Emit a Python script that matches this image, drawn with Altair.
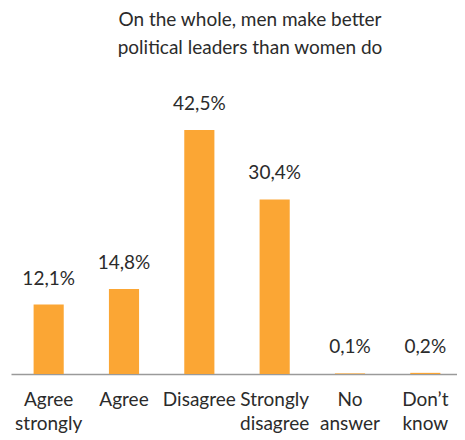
import altair as alt
import pandas as pd

categories = ["Agree strongly", "Agree", "Disagree", "Strongly disagree", "No answer", "Don’t know"]
values = [12.1, 14.8, 42.5, 30.4, 0.1, 0.2]
value_labels = ["12,1%", "14,8%", "42,5%", "30,4%", "0,1%", "0,2%"]
axis_labels = ["Agree|strongly", "Agree", "Disagree", "Strongly|disagree", "No|answer", "Don’t|know"]
title_lines = ["On the whole, men make better", "political leaders than women do"]

df = pd.DataFrame({"cat": categories, "val": values, "lab": value_labels, "axlab": axis_labels})

FONT = "Lato"
TXT = "#2b2b2b"
ORANGE = "#FBA634"

label_map = "{" + ",".join(f"'{c}':'{a}'" for c, a in zip(categories, axis_labels)) + "}"

x = alt.X("cat:N", sort=categories, title=None,
          scale=alt.Scale(range=[0, 452], paddingInner=0.6, paddingOuter=0.3),
          axis=alt.Axis(labelAngle=0, ticks=False, domainColor="#9a9a9a", domainWidth=1.5,
                        labelFont=FONT, labelFontSize=19, labelColor=TXT, labelPadding=16,
                        labelLineHeight=24, labelBaseline="top",
                        labelExpr=f"split({label_map}[datum.value], '|')"))
y = alt.Y("val:Q", scale=alt.Scale(domain=[0, 54.7]), axis=None)

bars = alt.Chart(df).mark_bar(color=ORANGE).encode(x=x, y=y)
text = alt.Chart(df).mark_text(baseline="alphabetic", dy=-20, font=FONT, fontSize=19, color=TXT).encode(
    x=alt.X("cat:N", sort=categories), y=y, text="lab:N")

chart = alt.layer(bars, text).properties(
    width=446, height=314,
    autosize=alt.AutoSizeParams(type="none"),
    padding={"left": 3, "top": 52, "right": 0, "bottom": 66},
    title=alt.TitleParams(title_lines, font=FONT, fontSize=19, fontWeight="normal", color=TXT,
                          lineHeight=28, offset=2, dx=16),
).configure_view(stroke=None)

chart.save("out.html", embed_options={"renderer": "svg", "actions": False})
